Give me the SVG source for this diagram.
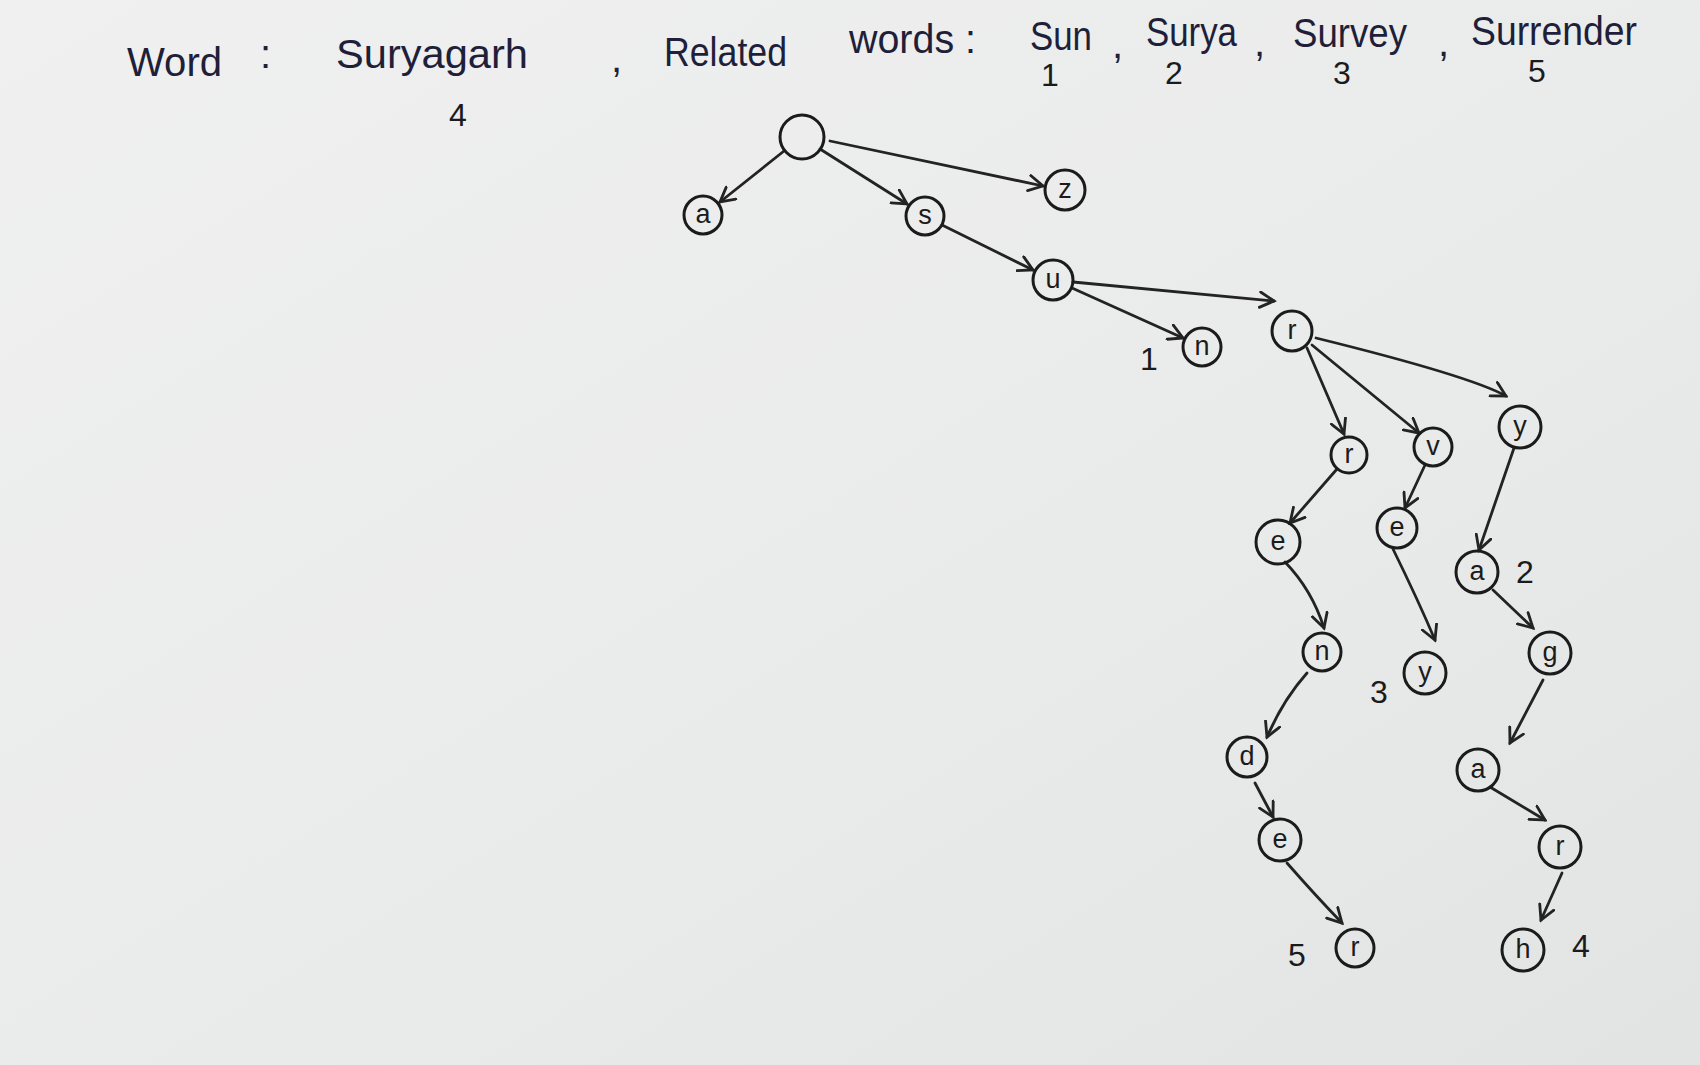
<svg xmlns="http://www.w3.org/2000/svg" width="1700" height="1065" viewBox="0 0 1700 1065">
<defs>
<style>
.node circle{fill:none;stroke:#1b1b1b;stroke-width:3}
.node text{font-family:"Liberation Sans","DejaVu Sans",sans-serif;font-size:27px;fill:#1b1b1b;text-anchor:middle;dominant-baseline:central}
.edge{fill:none;stroke:#232323;stroke-width:2.8;stroke-linecap:round;marker-end:url(#arr)}
.hdr{font-family:"Liberation Sans","DejaVu Sans",sans-serif;fill:#1f1f3a;font-size:40px}
.num{font-family:"Liberation Sans","DejaVu Sans",sans-serif;fill:#1b1b1b;font-size:32px;text-anchor:middle}
</style>
<marker id="arr" viewBox="0 0 14 14" refX="12" refY="7" markerWidth="18" markerHeight="18" markerUnits="userSpaceOnUse" orient="auto">
<path d="M1,1 L12,7 L1,13" fill="none" stroke="#232323" stroke-width="2.2" stroke-linecap="round"/>
</marker>
<linearGradient id="bg" x1="0" y1="0" x2="1" y2="1">
<stop offset="0" stop-color="#eff0ef"/>
<stop offset="0.6" stop-color="#e9ebea"/>
<stop offset="1" stop-color="#e2e4e3"/>
</linearGradient>
</defs>
<rect width="1700" height="1065" fill="url(#bg)"/>

<g id="header">
<text class="hdr" x="127" y="76" textLength="95" lengthAdjust="spacingAndGlyphs">Word</text>
<text class="hdr" x="260" y="68">:</text>
<text class="hdr" x="336" y="68" textLength="192" lengthAdjust="spacingAndGlyphs">Suryagarh</text>
<text class="num" x="458" y="126">4</text>
<text class="hdr" x="611" y="72">,</text>
<text class="hdr" x="664" y="66" textLength="123" lengthAdjust="spacingAndGlyphs">Related</text>
<text class="hdr" x="849" y="53" font-size="34" textLength="127" lengthAdjust="spacingAndGlyphs">words :</text>
<text class="hdr" x="1030" y="50" font-size="34" textLength="62" lengthAdjust="spacingAndGlyphs">Sun</text>
<text class="num" x="1050" y="86" font-size="26">1</text>
<text class="hdr" x="1112" y="58" font-size="34">,</text>
<text class="hdr" x="1146" y="46" font-size="34" textLength="91" lengthAdjust="spacingAndGlyphs">Surya</text>
<text class="num" x="1174" y="84" font-size="26">2</text>
<text class="hdr" x="1254" y="56" font-size="34">,</text>
<text class="hdr" x="1293" y="47" font-size="34" textLength="114" lengthAdjust="spacingAndGlyphs">Survey</text>
<text class="num" x="1342" y="84" font-size="26">3</text>
<text class="hdr" x="1438" y="56" font-size="34">,</text>
<text class="hdr" x="1471" y="45" font-size="34" textLength="166" lengthAdjust="spacingAndGlyphs">Surrender</text>
<text class="num" x="1537" y="82" font-size="26">5</text>
</g>

<g id="connectors">
<path class="edge" d="M784,151 L720,202"/>
<path class="edge" d="M820,149 L907,204"/>
<path class="edge" d="M830,141 L1043,186"/>
<path class="edge" d="M942,225 L1033,270"/>
<path class="edge" d="M1072,288 L1183,338"/>
<path class="edge" d="M1073,282 L1274,301"/>
<path class="edge" d="M1307,348 L1344,434"/>
<path class="edge" d="M1312,345 L1419,433"/>
<path class="edge" d="M1316,338 Q1470,376 1506,396"/>
<path class="edge" d="M1337,469 L1290,523"/>
<path class="edge" d="M1425,465 L1405,508"/>
<path class="edge" d="M1514,448 Q1496,500 1479,550"/>
<path class="edge" d="M1285,562 Q1312,590 1324,628"/>
<path class="edge" d="M1393,549 Q1418,600 1435,640"/>
<path class="edge" d="M1493,590 L1533,628"/>
<path class="edge" d="M1307,673 Q1283,700 1267,737"/>
<path class="edge" d="M1543,680 L1510,743"/>
<path class="edge" d="M1255,783 L1273,817"/>
<path class="edge" d="M1490,787 L1545,820"/>
<path class="edge" d="M1287,863 Q1315,895 1342,923"/>
<path class="edge" d="M1562,873 L1541,920"/>
</g>

<g id="node-root" class="node"><circle cx="802" cy="137" r="22"/></g>
<g id="node-a" class="node"><circle cx="703" cy="215" r="19"/><text x="703" y="214">a</text></g>
<g id="node-s" class="node"><circle cx="925" cy="216" r="19"/><text x="925" y="215">s</text></g>
<g id="node-z" class="node"><circle cx="1065" cy="190" r="20"/><text x="1065" y="189">z</text></g>
<g id="node-su" class="node"><circle cx="1053" cy="280" r="20"/><text x="1053" y="279">u</text></g>
<g id="node-sun" class="node"><circle cx="1202" cy="347" r="19"/><text x="1202" y="346">n</text></g>
<g id="node-sur" class="node"><circle cx="1292" cy="331" r="20"/><text x="1292" y="330">r</text></g>
<g id="node-surr" class="node"><circle cx="1349" cy="455" r="18"/><text x="1349" y="454">r</text></g>
<g id="node-surv" class="node"><circle cx="1433" cy="447" r="19"/><text x="1433" y="446">v</text></g>
<g id="node-sury" class="node"><circle cx="1520" cy="427" r="21"/><text x="1520" y="426">y</text></g>
<g id="node-surre" class="node"><circle cx="1278" cy="542" r="22"/><text x="1278" y="541">e</text></g>
<g id="node-surve" class="node"><circle cx="1397" cy="528" r="20"/><text x="1397" y="527">e</text></g>
<g id="node-surya" class="node"><circle cx="1477" cy="572" r="21"/><text x="1477" y="571">a</text></g>
<g id="node-surren" class="node"><circle cx="1322" cy="652" r="19"/><text x="1322" y="651">n</text></g>
<g id="node-survey" class="node"><circle cx="1425" cy="673" r="21"/><text x="1425" y="672">y</text></g>
<g id="node-suryag" class="node"><circle cx="1550" cy="653" r="21"/><text x="1550" y="652">g</text></g>
<g id="node-surrend" class="node"><circle cx="1247" cy="757" r="20"/><text x="1247" y="756">d</text></g>
<g id="node-suryaga" class="node"><circle cx="1478" cy="770" r="21"/><text x="1478" y="769">a</text></g>
<g id="node-surrende" class="node"><circle cx="1280" cy="840" r="21"/><text x="1280" y="839">e</text></g>
<g id="node-suryagar" class="node"><circle cx="1560" cy="847" r="21"/><text x="1560" y="846">r</text></g>
<g id="node-surrender" class="node"><circle cx="1355" cy="948" r="19"/><text x="1355" y="947">r</text></g>
<g id="node-suryagarh" class="node"><circle cx="1523" cy="950" r="21"/><text x="1523" y="949">h</text></g>

<g id="labels">
<text class="num" x="1149" y="370">1</text>
<text class="num" x="1525" y="583">2</text>
<text class="num" x="1379" y="703">3</text>
<text class="num" x="1297" y="966">5</text>
<text class="num" x="1581" y="957">4</text>
</g>
</svg>
